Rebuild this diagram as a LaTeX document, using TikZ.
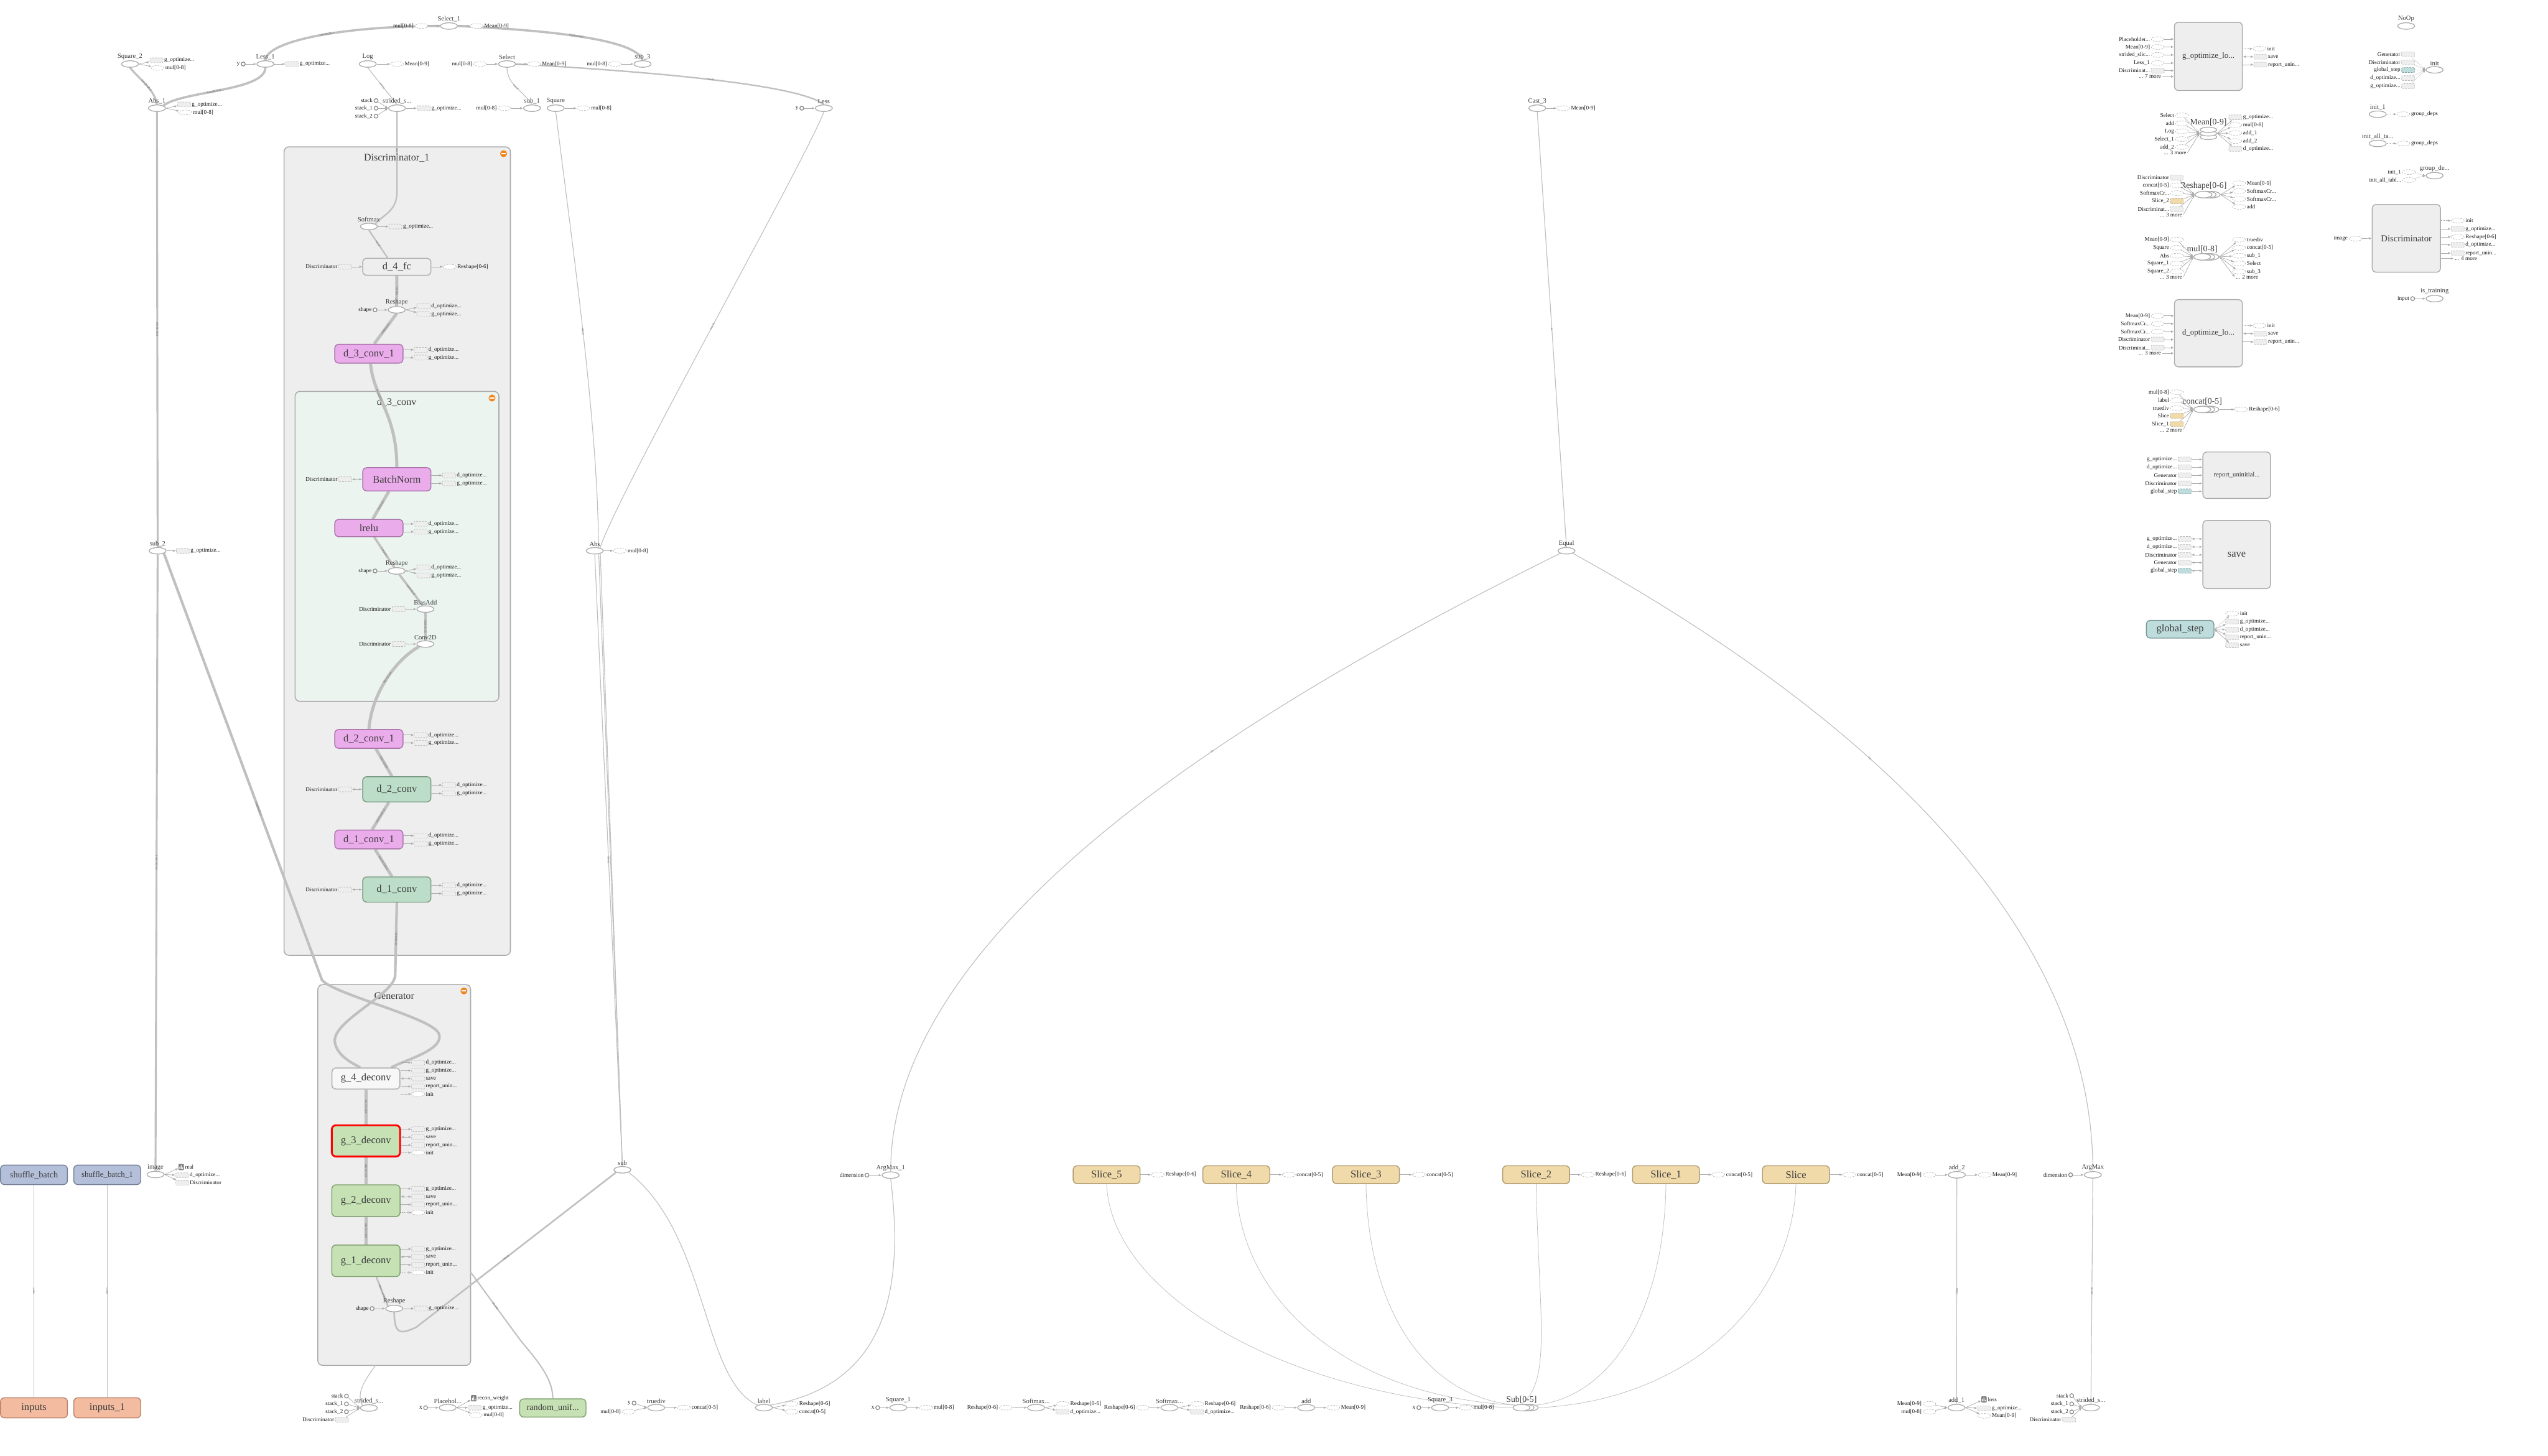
\documentclass[tikz,border=0pt]{standalone}
\usepackage{fontspec}
\setmainfont{Liberation Serif}
\usetikzlibrary{shapes.geometric,arrows.meta,positioning}

\definecolor{edgegray}{RGB}{192,192,192}
\definecolor{opline}{RGB}{172,172,172}
\definecolor{cstline}{RGB}{140,140,140}
\definecolor{stubline}{RGB}{180,180,180}
\definecolor{boxfill}{RGB}{238,238,238}
\definecolor{boxline}{RGB}{172,172,172}
\definecolor{subfill}{RGB}{236,244,240}
\definecolor{txt}{RGB}{60,60,60}
\definecolor{labtxt}{RGB}{25,25,25}
\definecolor{elabtxt}{RGB}{105,105,105}
\definecolor{pinkfill}{RGB}{235,172,235}
\definecolor{pinkline}{RGB}{168,115,168}
\definecolor{gfill}{RGB}{188,222,200}
\definecolor{gline}{RGB}{122,152,128}
\definecolor{lgfill}{RGB}{198,225,180}
\definecolor{lgline}{RGB}{128,160,112}
\definecolor{bluefill}{RGB}{180,192,218}
\definecolor{blueline}{RGB}{118,128,150}
\definecolor{orfill}{RGB}{243,188,160}
\definecolor{orline}{RGB}{186,132,106}
\definecolor{tanfill}{RGB}{241,218,170}
\definecolor{tanline}{RGB}{175,155,112}
\definecolor{tealfill}{RGB}{190,220,220}
\definecolor{tealline}{RGB}{122,152,152}
\definecolor{icongray}{RGB}{128,128,128}
\definecolor{minusorange}{RGB}{240,134,32}

\newcommand{\bigf}{\fontsize{18}{18}\selectfont}
\newcommand{\titf}{\fontsize{17.5}{17.5}\selectfont}
\newcommand{\serf}{\fontsize{15}{15}\selectfont}
\newcommand{\boxf}{\fontsize{14}{14}\selectfont}
\newcommand{\opf}{\fontsize{11.5}{11.5}\selectfont}
\newcommand{\smf}{\fontsize{10}{10}\selectfont}
\newcommand{\edf}{\fontsize{5}{5}\selectfont}

\pgfdeclarelayer{bg}
\pgfdeclarelayer{edges}
\pgfsetlayers{bg,edges,main}

\tikzset{
  op/.style={ellipse, draw=opline, fill=white, line width=0.5mm, minimum width=10.5mm, minimum height=4mm, inner sep=0pt},
  vop/.style={op, minimum width=10.3mm, minimum height=3.2mm},
  cst/.style={circle, draw=cstline, fill=white, line width=0.5mm, minimum size=2.4mm, inner sep=0pt},
  sbox/.style={rectangle, rounded corners=0.4mm, draw=stubline, densely dashed, fill=boxfill, line width=0.25mm, minimum width=8mm, minimum height=3mm, inner sep=0pt},
  stan/.style={sbox, draw=tanline, fill=tanfill},
  steal/.style={sbox, draw=tealline, fill=tealfill},
  sell/.style={ellipse, draw=stubline, densely dashed, fill=white, line width=0.25mm, minimum width=8mm, minimum height=3mm, inner sep=0pt},
  sico/.style={rectangle, rounded corners=0.4mm, fill=icongray, minimum width=3.3mm, minimum height=3.8mm, inner sep=0pt},
  blk/.style={rectangle, rounded corners=2.5mm, line width=0.55mm, minimum width=42mm, minimum height=11mm, inner sep=0pt, font=\bigf, text=txt},
  gbox/.style={blk, draw=boxline, fill=boxfill},
  pbox/.style={blk, draw=pinkline, fill=pinkfill},
  dbox/.style={blk, draw=gline, fill=gfill},
  hbox/.style={blk, draw=lgline, fill=lgfill},
  bbox/.style={blk, draw=blueline, fill=bluefill, minimum width=41.2mm, minimum height=12mm},
  obox/.style={blk, draw=orline, fill=orfill, minimum width=41.2mm, minimum height=12.4mm},
  tbox/.style={blk, draw=tanline, fill=tanfill, minimum width=41.2mm, minimum height=11mm},
  grp/.style={rectangle, rounded corners=3mm, draw=boxline, fill=boxfill, line width=0.6mm, inner sep=0pt},
  grpt/.style={font=\titf, text=txt, inner sep=0pt},
  tbminus/.style={circle, fill=minusorange, minimum size=4.3mm, inner sep=0pt,
    path picture={\fill[white] ([shift={(-1.4,-0.35)}]path picture bounding box.center) rectangle ++(2.8,0.7);}},
  sl/.style={font=\smf, text=labtxt, inner sep=0.6mm},
  opl/.style={font=\opf, text=txt, inner sep=0.4mm},
  el/.style={font=\edf, text=elabtxt, sloped, inner sep=0.3mm},
  ed/.style={draw=edgegray, line width=0.45mm},
  aux/.style={draw=opline, line width=0.28mm, -{Latex[length=1.8mm,width=1.5mm]}},
  auxd/.style={aux, densely dotted},
  auxb/.style={aux, {Latex[length=1.8mm,width=1.5mm]}-{Latex[length=1.8mm,width=1.5mm]}},
}

% helpers: one op, a series of ops, and the little in/out stubs
\newcount\tbn
\newcommand{\tbnext}{\global\advance\tbn by 1\relax\edef\tbsn{st\the\tbn}}
\newcommand{\tbop}[3]{\node[op,label={[opl]above:#3}] (#1) at (#2) {};}
\newcommand{\tbser}[3]{\path (#2) ++(5,0) node[op] (#1c) {} ++(-2.5,0) node[op] (#1b) {};
  \node[op,label={[opl,font=\serf]above:#3}] (#1) at (#2) {};}
\newcommand{\tbvser}[3]{\path (#2) ++(0,2.2) node[vop] (#1c) {} ++(0,-2.2) node[vop] (#1b) {}
  ++(0,-2.2) node[vop,label={[opl,font=\serf]above:#3}] (#1) {};}
\newcommand{\tbout}[5][aux]{\tbnext\node[#4,label={[sl]right:#5}] (\tbsn) at (#3) {};\draw[#1] (#2) -- (\tbsn);}
\newcommand{\tbin}[5][aux]{\tbnext\node[#4,label={[sl]left:#5}] (\tbsn) at (#3) {};\draw[#1] (\tbsn) -- (#2);}
\newcommand{\tbboxout}[5][aux]{\tbnext\node[#4,label={[sl]right:#5}] (\tbsn) at (#3) {};\draw[#1] (\tbsn -| #2.east) -- (\tbsn);}
\newcommand{\tbboxin}[5][aux]{\tbnext\node[#4,label={[sl]left:#5}] (\tbsn) at (#3) {};\draw[#1] (\tbsn) -- (\tbsn -| #2.west);}
\newcommand{\tbconst}[3]{\tbnext\node[cst,label={[sl]left:#3}] (\tbsn) at (#2) {};\draw[aux] (\tbsn) -- (#1);}
\newcommand{\tbsum}[3]{\tbnext\node[sico,label={[sl]right:#3}] (\tbsn) at (#2) {};
  \fill[white] ([shift={(-1.1,1.2)}]\tbsn.center) rectangle ++(0.5,-1.4)
    ([shift={(-0.25,1.2)}]\tbsn.center) rectangle ++(0.5,-2.3)
    ([shift={(0.6,1.2)}]\tbsn.center) rectangle ++(0.5,-0.9);
  \draw[aux] (#1) -- (\tbsn);}
\newcommand{\tbmorein}[3]{\tbnext\node[sl,anchor=east] (\tbsn) at (#2) {#3};\draw[aux] (\tbsn.east) -- (#1);}
\newcommand{\tbmoreboxin}[3]{\tbnext\node[sl,anchor=east] (\tbsn) at (#2) {#3};\draw[aux] (\tbsn.east) -- (\tbsn.east -| #1.west);}
\newcommand{\tbmoreout}[3]{\tbnext\node[sl,anchor=west] (\tbsn) at (#2) {#3};\draw[aux] (#1) -- (\tbsn.west);}
\newcommand{\tbmoreboxout}[3]{\tbnext\node[sl,anchor=west] (\tbsn) at (#2) {#3};\draw[aux] (\tbsn.west -| #1.east) -- (\tbsn.west);}

\begin{document}
\catcode`\_=12
\begin{tikzpicture}[x=1mm,y=-1mm]
\path[use as bounding box] (0,0) rectangle (1568,896);

% expanded groups
\begin{pgfonlayer}{bg}
  \node[grp, minimum width=139.3mm, minimum height=497.6mm] (disc1box) at (244.45,339.2) {};
  \node[grp, fill=subfill, minimum width=125.4mm, minimum height=190.8mm] (d3box) at (244.3,336.3) {};
  \node[grp, minimum width=94mm, minimum height=234.4mm] (genbox) at (242.6,723.2) {};
  \node[grpt] (disc1t) at (244.1,97.5) {Discriminator_1};
  \node[grpt] (d3t) at (244.1,247.5) {d_3_conv};
  \node[grpt] (gent) at (242.6,612.9) {Generator};
\end{pgfonlayer}
\node[tbminus] (disc1m) at (309.9,94.6) {};
\node[tbminus] (d3m) at (302.8,245) {};
\node[tbminus] (genm) at (285.5,609.9) {};

% top left ops
\tbop{sel1}{276.3,16}{Select_1}
\tbin{sel1.west}{259.3,16}{sell}{mul[0-8]}
\tbout{sel1.east}{293.3,16}{sell}{Mean[0-9]}
\tbop{sq2}{80,39.4}{Square_2}
\tbout{sq2.east}{96.3,37.1}{sbox}{g_optimize...}
\tbout{sq2.east}{97,41.8}{sell}{mul[0-8]}
\tbop{less1}{163.3,39.4}{Less_1}
\tbconst{less1}{149.7,39.4}{y}
\tbout{less1.east}{179.7,39.4}{sbox}{g_optimize...}
\tbop{log}{226.3,39.4}{Log}
\tbout{log.east}{244.3,39.4}{sell}{Mean[0-9]}
\tbop{sel}{312,39.4}{Select}
\tbin{sel.west}{295.4,39.4}{sell}{mul[0-8]}
\tbout{sel.east}{328.7,39.4}{sell}{Mean[0-9]}
\tbop{sub3}{395.4,39.4}{sub_3}
\tbin{sub3.west}{378.4,39.4}{sell}{mul[0-8]}
\tbop{abs1}{96.6,66.6}{Abs_1}
\tbout{abs1.east}{113.3,64.3}{sbox}{g_optimize...}
\tbout{abs1.east}{114,69.2}{sell}{mul[0-8]}
\tbop{ss}{244.3,66.6}{strided_s...}
\tbconst{ss.west}{231.4,61.9}{stack}
\tbconst{ss.west}{231.4,66.6}{stack_1}
\tbconst{ss.west}{231.4,71.5}{stack_2}
\tbout{ss.east}{260.7,66.6}{sbox}{g_optimize...}
\tbop{sub1}{327.4,66.6}{sub_1}
\tbin{sub1.west}{310.4,66.6}{sell}{mul[0-8]}
\tbop{sq}{342,66.6}{Square}
\tbout{sq.east}{359,66.6}{sell}{mul[0-8]}
\tbop{less}{507,66.6}{Less}
\tbconst{less}{493.4,66.6}{y}
\tbop{cast3}{946,66.6}{Cast_3}
\tbout{cast3.east}{962,66.6}{sell}{Mean[0-9]}
\tbop{sub2}{97,339}{sub_2}
\tbout{sub2.east}{112.5,339}{sbox}{g_optimize...}
\tbop{abs}{366,339}{Abs}
\tbout{abs.east}{381.5,339}{sell}{mul[0-8]}
\tbop{equal}{964,339}{Equal}

% Discriminator_1
\tbop{smx}{227,139.4}{Softmax}
\tbout{smx.east}{243.3,139.4}{sbox}{g_optimize...}
\node[gbox, minimum height=10.5mm] (d4fc) at (244.2,164.2) {d_4_fc};
\tbboxin{d4fc}{212.4,164.2}{sbox}{Discriminator}
\tbboxout{d4fc}{276.7,164.2}{sell}{Reshape[0-6]}
\tbop{rs1}{244.1,190.7}{Reshape}
\tbconst{rs1}{230.8,190.7}{shape}
\tbout{rs1.east}{260.6,188.4}{sbox}{d_optimize...}
\tbout{rs1.east}{260.6,193.3}{sbox}{g_optimize...}
\node[pbox, minimum height=11.6mm] (d3c1) at (227,217.7) {d_3_conv_1};
\tbboxout{d3c1}{258.9,215.3}{sbox}{d_optimize...}
\tbboxout{d3c1}{258.9,220.1}{sbox}{g_optimize...}
\node[pbox, minimum height=14.3mm] (bn) at (244.2,295) {BatchNorm};
\tbboxin[auxb]{bn}{212.4,295}{sbox}{Discriminator}
\tbboxout{bn}{276.3,292.6}{sbox}{d_optimize...}
\tbboxout{bn}{276.3,297.5}{sbox}{g_optimize...}
\node[pbox, minimum height=10.6mm] (lrelu) at (227,325) {lrelu};
\tbboxout{lrelu}{258.9,322.4}{sbox}{d_optimize...}
\tbboxout{lrelu}{258.9,327.3}{sbox}{g_optimize...}
\tbop{rs2}{244.1,351.4}{Reshape}
\tbconst{rs2}{230.8,351.4}{shape}
\tbout{rs2.east}{260.6,349.2}{sbox}{d_optimize...}
\tbout{rs2.east}{260.6,354.1}{sbox}{g_optimize...}
\tbop{ba}{261.8,374.9}{BiasAdd}
\tbin{ba.west}{245.3,374.9}{sbox}{Discriminator}
\tbop{cv}{261.8,396.4}{Conv2D}
\tbin{cv.west}{245.3,396.4}{sbox}{Discriminator}
\node[pbox, minimum height=11.6mm] (d2c1) at (227,454.8) {d_2_conv_1};
\tbboxout{d2c1}{258.9,452.4}{sbox}{d_optimize...}
\tbboxout{d2c1}{258.9,457.3}{sbox}{g_optimize...}
\node[dbox, minimum height=15.5mm] (d2c) at (244.2,485.8) {d_2_conv};
\tbboxin[auxb]{d2c}{212.4,485.8}{sbox}{Discriminator}
\tbboxout{d2c}{276.3,483.2}{sbox}{d_optimize...}
\tbboxout{d2c}{276.3,488.4}{sbox}{g_optimize...}
\node[pbox, minimum height=11.6mm] (d1c1) at (227,516.7) {d_1_conv_1};
\tbboxout{d1c1}{258.9,514.3}{sbox}{d_optimize...}
\tbboxout{d1c1}{258.9,519.2}{sbox}{g_optimize...}
\node[dbox, minimum height=15.5mm] (d1c) at (244.2,547.5) {d_1_conv};
\tbboxin[auxb]{d1c}{212.4,547.5}{sbox}{Discriminator}
\tbboxout{d1c}{276.3,545}{sbox}{d_optimize...}
\tbboxout{d1c}{276.3,550}{sbox}{g_optimize...}

% Generator
\node[gbox, fill=white!55!boxfill, minimum width=41.8mm, minimum height=13mm] (g4) at (225.2,663.8) {g_4_deconv};
\tbboxout{g4}{257.3,654}{sbox}{d_optimize...}
\tbboxout{g4}{257.3,658.9}{sbox}{g_optimize...}
\tbboxout[auxb]{g4}{257.3,663.8}{sbox}{save}
\tbboxout{g4}{257.3,668.7}{sbox}{report_unin...}
\tbboxout[auxd]{g4}{257.3,673.4}{sell}{init}
\node[hbox, draw=red, line width=1.1mm, minimum height=19.2mm] (g3) at (225.2,702.2) {g_3_deconv};
\tbboxout{g3}{257.3,695}{sbox}{g_optimize...}
\tbboxout[auxb]{g3}{257.3,699.9}{sbox}{save}
\tbboxout{g3}{257.3,704.8}{sbox}{report_unin...}
\tbboxout[auxd]{g3}{257.3,709.4}{sell}{init}
\node[hbox, minimum height=19.5mm] (g2) at (225.2,739) {g_2_deconv};
\tbboxout{g2}{257.3,731.6}{sbox}{g_optimize...}
\tbboxout[auxb]{g2}{257.3,736.5}{sbox}{save}
\tbboxout{g2}{257.3,741.4}{sbox}{report_unin...}
\tbboxout[auxd]{g2}{257.3,746.3}{sell}{init}
\node[hbox, minimum height=19.4mm] (g1) at (225.2,776) {g_1_deconv};
\tbboxout{g1}{257.3,768.7}{sbox}{g_optimize...}
\tbboxout[auxb]{g1}{257.3,773.6}{sbox}{save}
\tbboxout{g1}{257.3,778.5}{sbox}{report_unin...}
\tbboxout[auxd]{g1}{257.3,783.2}{sell}{init}
\tbop{rs3}{242.6,805.4}{Reshape}
\tbconst{rs3}{229,805.4}{shape}
\tbout{rs3.east}{259,805.4}{sbox}{g_optimize...}
\coordinate (genin) at (289.6,783);
\coordinate (genout) at (231.1,840.4);

% left column
\node[bbox, font=\fontsize{15.5}{15.5}\selectfont] (sb) at (20.9,723.1) {shuffle_batch};
\node[bbox, font=\fontsize{14}{14}\selectfont] (sb1) at (66,723.1) {shuffle_batch_1};
\node[obox] (inp) at (20.9,866.5) {inputs};
\node[obox] (inp1) at (66,866.5) {inputs_1};
\tbop{img}{95.7,722.9}{image}
\tbsum{img.east}{111.5,718.3}{real}
\tbout{img.east}{112,723.4}{sbox}{d_optimize...}
\tbout{img.east}{112,727.9}{sbox}{Discriminator}

% middle row
\tbop{sub}{383,720}{sub}
\tbop{am1}{548.1,723.3}{ArgMax_1}
\tbconst{am1.west}{533.5,723.3}{dimension}
\node[tbox] (sl5) at (681,723) {Slice_5};
\tbboxout{sl5}{712.4,723}{sell}{Reshape[0-6]}
\node[tbox] (sl4) at (760.8,723) {Slice_4};
\tbboxout{sl4}{793.1,723}{sell}{concat[0-5]}
\node[tbox] (sl3) at (840.6,723) {Slice_3};
\tbboxout{sl3}{873.1,723}{sell}{concat[0-5]}
\node[tbox] (sl2) at (945.3,723) {Slice_2};
\tbboxout{sl2}{977,723}{sell}{Reshape[0-6]}
\node[tbox] (sl1) at (1025.2,723) {Slice_1};
\tbboxout{sl1}{1057.4,723}{sell}{concat[0-5]}
\node[tbox] (sl0) at (1105.2,723) {Slice};
\tbboxout{sl0}{1138,723}{sell}{concat[0-5]}
\tbop{add2}{1204.2,723.1}{add_2}
\tbin{add2.west}{1187.3,723.1}{sell}{Mean[0-9]}
\tbout{add2.east}{1221.3,723.1}{sell}{Mean[0-9]}
\tbop{am}{1287.9,723.1}{ArgMax}
\tbconst{am.west}{1274.2,723.1}{dimension}

% bottom row
\tbop{ss2}{227,866.6}{strided_s...}
\tbconst{ss2.west}{213.2,859.3}{stack}
\tbconst{ss2.west}{213.2,864.1}{stack_1}
\tbconst{ss2.west}{213.2,868.9}{stack_2}
\tbin{ss2.west}{210.4,873.9}{sbox}{Discriminator}
\tbop{ph}{275.5,866.4}{Placehol...}
\tbconst{ph.west}{261.9,866.4}{x}
\tbsum{ph.east}{291.5,860.6}{recon_weight}
\tbout{ph.east}{292.2,866.4}{sbox}{g_optimize...}
\tbout{ph.east}{292.8,871}{sell}{mul[0-8]}
\node[hbox, minimum width=40.8mm, minimum height=11.2mm, font=\fontsize{15.5}{15.5}\selectfont] (ru) at (340.2,866.6) {random_unif...};
\tbop{tdiv}{403.8,866.4}{truediv}
\tbconst{tdiv.west}{390.2,863.6}{y}
\tbin{tdiv.west}{386.8,868.9}{sell}{mul[0-8]}
\tbout{tdiv.east}{420.8,866.4}{sell}{concat[0-5]}
\tbop{lab}{470.1,866.4}{label}
\tbout{lab.east}{487.1,864.1}{sell}{Reshape[0-6]}
\tbout{lab.east}{487.1,868.9}{sell}{concat[0-5]}
\tbop{sq1}{552.8,866.4}{Square_1}
\tbconst{sq1.west}{540.1,866.4}{x}
\tbout{sq1.east}{569.8,866.4}{sell}{mul[0-8]}
\tbop{smc}{637.6,866.4}{Softmax...}
\tbin{smc.west}{618.9,866.4}{sell}{Reshape[0-6]}
\tbout{smc.east}{653.9,864.1}{sell}{Reshape[0-6]}
\tbout{smc.east}{653.9,868.9}{sbox}{d_optimize...}
\tbop{smd}{719.6,866.4}{Softmax...}
\tbin{smd.west}{703.2,866.4}{sell}{Reshape[0-6]}
\tbout{smd.east}{736.6,864.1}{sell}{Reshape[0-6]}
\tbout{smd.east}{736.6,868.9}{sbox}{d_optimize...}
\tbop{add}{803.8,866.4}{add}
\tbin{add.west}{786.8,866.4}{sell}{Reshape[0-6]}
\tbout{add.east}{820.5,866.4}{sell}{Mean[0-9]}
\tbop{sq3}{886.2,866.4}{Square_3}
\tbconst{sq3.west}{873.1,866.4}{x}
\tbout{sq3.east}{902,866.4}{sell}{mul[0-8]}
\tbser{sub05}{936.3,866.4}{Sub[0-5]}
\tbop{add1}{1204,866.4}{add_1}
\tbin{add1.west}{1187.3,864.1}{sell}{Mean[0-9]}
\tbin{add1.west}{1187.3,868.9}{sell}{mul[0-8]}
\tbsum{add1.east}{1220.9,861.3}{loss}
\tbout{add1.east}{1220.9,866.8}{sbox}{g_optimize...}
\tbout{add1.east}{1221,871.4}{sell}{Mean[0-9]}
\tbop{ss3}{1286.7,866.4}{strided_s...}
\tbconst{ss3.west}{1274.9,859}{stack}
\tbconst{ss3.west}{1274.9,864.1}{stack_1}
\tbconst{ss3.west}{1274.9,869}{stack_2}
\tbin{ss3.west}{1273.3,873.7}{sbox}{Discriminator}

% right column: unconnected series and groups
\node[gbox, minimum width=41.8mm, minimum height=42mm, font=\boxf] (gopt) at (1359,34.7) {g_optimize_lo...};
\tbboxin{gopt}{1327.8,24.1}{sell}{Placeholder...}
\tbboxin{gopt}{1327.8,28.9}{sell}{Mean[0-9]}
\tbboxin{gopt}{1327.8,33.8}{sell}{strided_slic...}
\tbboxin{gopt}{1327.8,38.8}{sell}{Less_1}
\tbboxin{gopt}{1327.8,43.5}{sbox}{Discriminat...}
\tbmoreboxin{gopt}{1330.5,47.1}{... 7 more}
\tbboxout[auxd]{gopt}{1390.4,30}{sell}{init}
\tbboxout[auxb]{gopt}{1391,34.9}{sbox}{save}
\tbboxout{gopt}{1391,39.8}{sbox}{report_unin...}

\tbvser{mean}{1359,82.1}{Mean[0-9]}
\tbin{meanb.west}{1342.7,71}{sell}{Select}
\tbin{meanb.west}{1342.7,75.9}{sell}{add}
\tbin{meanb.west}{1342.7,80.8}{sell}{Log}
\tbin{meanb.west}{1342.7,85.6}{sell}{Select_1}
\tbin{meanb.west}{1342.7,90.5}{sell}{add_2}
\tbmorein{meanb.west}{1346,94.1}{... 3 more}
\tbout{meanb.east}{1375.6,72.2}{sbox}{g_optimize...}
\tbout{meanb.east}{1375.6,77}{sell}{mul[0-8]}
\tbout{meanb.east}{1375.6,81.9}{sell}{add_1}
\tbout{meanb.east}{1375.6,86.8}{sell}{add_2}
\tbout{meanb.east}{1375.6,91.6}{sbox}{d_optimize...}

\tbser{rsh}{1356,119.8}{Reshape[0-6]}
\tbin{rsh.west}{1339.6,109.3}{sbox}{Discriminator}
\tbin{rsh.west}{1339.6,114.1}{sell}{concat[0-5]}
\tbin{rsh.west}{1339.6,118.9}{sell}{SoftmaxCr...}
\tbin{rsh.west}{1339.6,123.8}{stan}{Slice_2}
\tbin{rsh.west}{1339.6,128.8}{sbox}{Discriminat...}
\tbmorein{rsh.west}{1343.5,132.2}{... 3 more}
\tbout{rshc.east}{1377.9,112.8}{sell}{Mean[0-9]}
\tbout{rshc.east}{1377.9,117.6}{sell}{SoftmaxCr...}
\tbout{rshc.east}{1377.9,122.5}{sell}{SoftmaxCr...}
\tbout{rshc.east}{1377.9,127.3}{sell}{add}

\tbser{mul}{1355.2,158.1}{mul[0-8]}
\tbin{mul.west}{1339.6,147.5}{sell}{Mean[0-9]}
\tbin{mul.west}{1339.6,152.5}{sell}{Square}
\tbin{mul.west}{1339.6,157.4}{sell}{Abs}
\tbin{mul.west}{1339.6,162.2}{sell}{Square_1}
\tbin{mul.west}{1339.6,167.1}{sell}{Square_2}
\tbmorein{mul.west}{1343.5,170.6}{... 3 more}
\tbout{mulc.east}{1377.9,147.5}{sell}{truediv}
\tbout{mulc.east}{1377.9,152.5}{sell}{concat[0-5]}
\tbout{mulc.east}{1377.9,157.4}{sell}{sub_1}
\tbout{mulc.east}{1377.9,162.2}{sell}{Select}
\tbout{mulc.east}{1377.9,167.1}{sell}{sub_3}
\tbmoreout{mulc.east}{1375.3,170.6}{... 2 more}

\node[gbox, minimum width=41.8mm, minimum height=41.4mm, font=\boxf] (dopt) at (1359,205.1) {d_optimize_lo...};
\tbboxin{dopt}{1327.8,194.4}{sell}{Mean[0-9]}
\tbboxin{dopt}{1327.8,199.3}{sell}{SoftmaxCr...}
\tbboxin{dopt}{1327.8,204.1}{sell}{SoftmaxCr...}
\tbboxin{dopt}{1327.8,209}{sbox}{Discriminator}
\tbboxin{dopt}{1327.8,214}{sbox}{Discriminat...}
\tbmoreboxin{dopt}{1330.5,217.4}{... 3 more}
\tbboxout[auxd]{dopt}{1390.4,200.4}{sell}{init}
\tbboxout[auxb]{dopt}{1391,205.3}{sbox}{save}
\tbboxout{dopt}{1391,210.4}{sbox}{report_unin...}

\tbser{cat}{1355.2,252}{concat[0-5]}
\tbin{cat.west}{1339.6,241.4}{sell}{mul[0-8]}
\tbin{cat.west}{1339.6,246.3}{sell}{label}
\tbin{cat.west}{1339.6,251.2}{sell}{truediv}
\tbin{cat.west}{1339.6,256}{stan}{Slice}
\tbin{cat.west}{1339.6,261}{stan}{Slice_1}
\tbmorein{cat.west}{1343.5,264.6}{... 2 more}
\tbout{catc.east}{1379.2,252}{sell}{Reshape[0-6]}

\node[gbox, minimum width=41.6mm, minimum height=28.6mm, font=\fontsize{11.5}{11.5}\selectfont] (rep) at (1376.4,292.5) {report_uninitial...};
\tbboxin{rep}{1344.4,282.8}{sbox}{g_optimize...}
\tbboxin{rep}{1344.4,287.6}{sbox}{d_optimize...}
\tbboxin{rep}{1344.4,292.5}{sbox}{Generator}
\tbboxin{rep}{1344.4,297.5}{sbox}{Discriminator}
\tbboxin{rep}{1344.4,302.4}{steal}{global_step}

\node[gbox, minimum width=41.6mm, minimum height=41.9mm] (save) at (1376.4,341.3) {save};
\tbboxin[auxb]{save}{1344.4,331.7}{sbox}{g_optimize...}
\tbboxin[auxb]{save}{1344.4,336.6}{sbox}{d_optimize...}
\tbboxin[auxb]{save}{1344.4,341.5}{sbox}{Discriminator}
\tbboxin[auxb]{save}{1344.4,346.3}{sbox}{Generator}
\tbboxin[auxb]{save}{1344.4,351.3}{steal}{global_step}

\node[blk, draw=tealline, fill=tealfill, minimum width=41.6mm, minimum height=10.9mm] (gs) at (1341.6,387.3) {global_step};
\tbout[auxd]{gs.east}{1373.6,377.6}{sell}{init}
\tbout{gs.east}{1373.6,382.5}{sbox}{g_optimize...}
\tbout{gs.east}{1373.6,387.5}{sbox}{d_optimize...}
\tbout{gs.east}{1373.6,392.3}{sbox}{report_unin...}
\tbout[auxb]{gs.east}{1373.6,397.2}{sbox}{save}

% far right column
\tbop{noop}{1480.7,16}{NoOp}
\tbop{init}{1498.2,43}{init}
\tbin[auxd]{init.west}{1481.9,33.4}{sbox}{Generator}
\tbin[auxd]{init.west}{1481.9,38.4}{sbox}{Discriminator}
\tbin[auxd]{init.west}{1481.9,43.1}{steal}{global_step}
\tbin[auxd]{init.west}{1481.9,48.1}{sbox}{d_optimize...}
\tbin[auxd]{init.west}{1481.9,53}{sbox}{g_optimize...}
\tbop{initone}{1463.2,70.3}{init_1}
\tbout[auxd]{initone.east}{1479,70.3}{sell}{group_deps}
\tbop{initall}{1463.2,88.3}{init_all_ta...}
\tbout[auxd]{initall.east}{1479,88.3}{sell}{group_deps}
\tbop{gdeps}{1498.2,108.1}{group_de...}
\tbin[auxd]{gdeps.west}{1482.4,105.9}{sell}{init_1}
\tbin[auxd]{gdeps.west}{1482.4,110.8}{sell}{init_all_tabl...}
\node[gbox, minimum width=42mm, minimum height=41.7mm, font=\fontsize{16}{16}\selectfont] (disc) at (1480.8,146.7) {Discriminator};
\tbin{disc.west}{1449.5,146.9}{sell}{image}
\tbboxout[auxd]{disc}{1512.4,135.8}{sell}{init}
\tbboxout{disc}{1512.4,140.9}{sbox}{g_optimize...}
\tbboxout{disc}{1512.4,145.8}{sell}{Reshape[0-6]}
\tbboxout{disc}{1512.4,150.7}{sbox}{d_optimize...}
\tbboxout{disc}{1512.4,155.8}{sbox}{report_unin...}
\tbmoreboxout{disc}{1510,159.1}{... 4 more}
\tbop{istr}{1498.2,183.8}{is_training}
\tbconst{istr.west}{1484.7,183.8}{input}

% data edges
\begin{pgfonlayer}{edges}
  \draw[ed, line width=1.4mm] (less1.north) .. controls (164,25) and (212,16) .. (sel1.west) node[el,pos=0.55]{64x28x28x1};
  \draw[ed, line width=1.4mm] (sel1.east) .. controls (345,19) and (392,25) .. (sub3.north) node[el,pos=0.45]{64x28x28x1};
  \draw[ed, line width=1.2mm] (sq2.south) .. controls (87,50) and (95,55) .. (abs1.north) node[el,pos=0.5]{64x28x28x1};
  \draw[ed, line width=1.4mm] (less1.south) .. controls (163.3,56) and (112,56) .. (abs1.north east) node[el,pos=0.55]{64x28x28x1};
  \draw[ed, line width=1.2mm] (abs1.south) -- node[el]{64x28x28x1} (sub2.north);
  \draw[ed, line width=1.2mm] (sub2.south) -- node[el]{64x28x28x1} (img.north);
  \draw[ed] (log.south) -- node[el]{64x11} (ss.north);
  \draw[ed] (sel.south) .. controls (312,52) and (322,56) .. (sub1.north) node[el,pos=0.5]{64x11};
  \draw[ed, line width=0.9mm] (sel.east) .. controls (400,44) and (492,52) .. (less.north) node[el,pos=0.5]{64x11};
  \draw[ed] (sq.south) .. controls (352,150) and (368,260) .. (368.3,337) node[el,pos=0.5]{64x11} -- (sub.north);
  \draw[ed] (less.south) .. controls (495,100) and (382,300) .. (369.3,337) node[el,pos=0.5]{64x11} -- (sub.north);
  \draw[ed] (abs.south) -- node[el]{64x11} (sub.north);
  \draw[ed] (cast3.south) -- node[el]{64} (equal.north);
  \draw[ed] (equal.south west) .. controls (800,420) and (548,560) .. (am1.north) node[el,pos=0.4]{64};
  \draw[ed] (equal.south east) .. controls (1130,430) and (1288,560) .. (am.north) node[el,pos=0.4]{64};
  \draw[ed] (am1.south) .. controls (556,790) and (548,852) .. (lab.north east);
  \draw[ed] (sub.south east) .. controls (436,760) and (432,850) .. (lab.north west);
  % Discriminator_1 chain
  \draw[ed, line width=0.9mm] (ss.south) -- node[el]{64x11} (244.3,118) .. controls (244.3,130) and (236,132) .. (smx.north east);
  \draw[ed, line width=0.9mm] (smx.south) -- node[el]{64x11} ([xshift=-5.7mm]d4fc.north);
  \draw[ed, line width=1.9mm] (d4fc.south) -- node[el]{64x512} (rs1.north);
  \draw[ed, line width=1.9mm] (rs1.south) -- node[el]{64x4x4x32} ([xshift=3.3mm]d3c1.north);
  \draw[ed, line width=1.9mm] ([xshift=1mm]d3c1.south) .. controls (230,245) and (244.2,255) .. (bn.north) node[el,pos=0.35]{64x4x4x32};
  \draw[ed, line width=1.9mm] ([xshift=-4.9mm]bn.south) -- node[el]{4 tensors} ([xshift=2.4mm]lrelu.north);
  \draw[ed, line width=1.4mm] ([xshift=3.3mm]lrelu.south) -- node[el]{2 tensors} (rs2);
  \draw[ed, line width=1.4mm] (rs2) -- node[el]{64x4x4x32} (ba);
  \draw[ed, line width=1.4mm] (ba) -- node[el]{64x4x4x32} (cv);
  \draw[ed, line width=1.9mm] (cv.south west) .. controls (245,405) and (229,425) .. (d2c1.north) node[el,pos=0.5]{64x7x7x64};
  \draw[ed, line width=1.9mm] ([xshift=4.3mm]d2c1.south) -- node[el]{64x7x7x64} ([xshift=-3mm]d2c.north);
  \draw[ed, line width=1.9mm] ([xshift=-4.9mm]d2c.south) -- node[el]{64x14x14x32} ([xshift=2mm]d1c1.north);
  \draw[ed, line width=1.9mm] ([xshift=3.8mm]d1c1.south) -- node[el]{64x14x14x32} ([xshift=-3mm]d1c.north);
  \draw[ed, line width=1.6mm] (d1c.south) -- node[el]{64x28x28x1} (243.2,600) .. controls (243.2,612) and (205,628) .. (206,641) .. controls (207,650) and (218,655) .. ([xshift=-3.5mm]g4.north);
  \draw[ed, line width=1.6mm] (sub2.south east) -- node[el,pos=0.6]{64x28x28x1} (198.1,603.1) .. controls (205,612) and (265,626) .. (270,636) .. controls (274,646) and (250,652) .. ([xshift=15.6mm]g4.north);
  % Generator chain
  \draw[ed, line width=2mm] (g4.south) -- node[el]{64x12x12x6} (g3.north);
  \draw[ed, line width=2mm] (g3.south) -- node[el]{64x5x5x25} (g2.north);
  \draw[ed, line width=2mm] (g2.south) -- node[el]{64x2x2x100} (g1.north);
  \draw[ed, line width=1mm] ([xshift=6.4mm]g1.south) -- node[el]{64x1x1x100} (rs3.north west);
  \draw[ed, line width=1mm] (rs3.south) .. controls (242.6,822) and (247,821) .. (256,817) -- node[el,pos=0.45]{64x10} (sub.south west);
  \draw[ed, line width=0.8mm] (ru.north) .. controls (340,848) and (331,838) .. (320,824.6) -- node[el]{64x100} (genin);
  \draw[ed] (genout) .. controls (224,850) and (219,858) .. (ss2.north west);
  % slices into Sub[0-5]
  \draw[ed, line width=0.3mm] (sl5.south) .. controls (684,800) and (800,862) .. (sub05.west);
  \draw[ed, line width=0.3mm] (sl4.south) .. controls (762,800) and (830,860) .. (sub05.north west);
  \draw[ed, line width=0.3mm] (sl3.south) .. controls (842,810) and (880,860) .. (sub05.north west);
  \draw[ed, line width=0.3mm] (sl2.south) .. controls (947,810) and (955,850) .. (sub05.north);
  \draw[ed, line width=0.3mm] (sl1.south) .. controls (1024,810) and (990,860) .. (sub05c.north east);
  \draw[ed, line width=0.3mm] (sl0.south) .. controls (1103,800) and (1040,862) .. (sub05c.east);
  % verticals
  \draw[ed] (add2.south) -- node[el]{scalar} (add1.north);
  \draw[ed] (am.south) -- node[el]{64x10} (ss3.north);
  \draw[ed] (sb.south) -- node[el]{scalar} (inp.north);
  \draw[ed] (sb1.south) -- node[el]{scalar} (inp1.north);
\end{pgfonlayer}
\end{tikzpicture}
\end{document}
